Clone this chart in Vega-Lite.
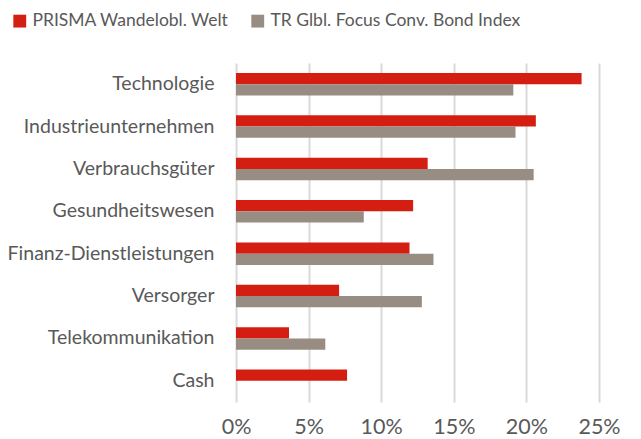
{
  "$schema": "https://vega.github.io/schema/vega-lite/v6.json",
  "width": 363,
  "height": 339,
  "autosize": {"type": "none"},
  "padding": {"left": 236, "top": 63, "right": 42, "bottom": 37},
  "background": "white",
  "data": {
    "values": [
      {"sector": "Technologie", "series": "PRISMA Wandelobl. Welt", "value": 23.8},
      {"sector": "Technologie", "series": "TR Glbl. Focus Conv. Bond Index", "value": 19.1},
      {"sector": "Industrieunternehmen", "series": "PRISMA Wandelobl. Welt", "value": 20.65},
      {"sector": "Industrieunternehmen", "series": "TR Glbl. Focus Conv. Bond Index", "value": 19.25},
      {"sector": "Verbrauchsgüter", "series": "PRISMA Wandelobl. Welt", "value": 13.2},
      {"sector": "Verbrauchsgüter", "series": "TR Glbl. Focus Conv. Bond Index", "value": 20.5},
      {"sector": "Gesundheitswesen", "series": "PRISMA Wandelobl. Welt", "value": 12.2},
      {"sector": "Gesundheitswesen", "series": "TR Glbl. Focus Conv. Bond Index", "value": 8.8},
      {"sector": "Finanz-Dienstleistungen", "series": "PRISMA Wandelobl. Welt", "value": 11.95},
      {"sector": "Finanz-Dienstleistungen", "series": "TR Glbl. Focus Conv. Bond Index", "value": 13.6},
      {"sector": "Versorger", "series": "PRISMA Wandelobl. Welt", "value": 7.1},
      {"sector": "Versorger", "series": "TR Glbl. Focus Conv. Bond Index", "value": 12.8},
      {"sector": "Telekommunikation", "series": "PRISMA Wandelobl. Welt", "value": 3.65},
      {"sector": "Telekommunikation", "series": "TR Glbl. Focus Conv. Bond Index", "value": 6.15},
      {"sector": "Cash", "series": "PRISMA Wandelobl. Welt", "value": 7.65},
      {"sector": "Cash", "series": "TR Glbl. Focus Conv. Bond Index", "value": 0}
    ]
  },
  "mark": {"type": "bar"},
  "encoding": {
    "y": {
      "field": "sector",
      "type": "nominal",
      "sort": null,
      "scale": {"paddingInner": 0.47, "paddingOuter": 0.235},
      "axis": {
        "title": null,
        "domain": false,
        "ticks": false,
        "labelPadding": 22,
        "labelFont": "Lato",
        "labelFontSize": 19.5,
        "labelColor": "#595959",
        "labelLimit": 300
      }
    },
    "yOffset": {
      "field": "series",
      "type": "nominal",
      "sort": ["PRISMA Wandelobl. Welt", "TR Glbl. Focus Conv. Bond Index"]
    },
    "x": {
      "field": "value",
      "type": "quantitative",
      "scale": {"domain": [0, 25], "nice": false},
      "axis": {
        "title": null,
        "values": [0, 5, 10, 15, 20, 25],
        "labelExpr": "datum.value + '%'",
        "domain": false,
        "ticks": false,
        "grid": true,
        "gridColor": "#D9D9D9",
        "gridWidth": 2,
        "labelPadding": 14,
        "labelFont": "Lato",
        "labelFontSize": 21.5,
        "labelColor": "#595959",
        "labelFlush": false,
        "labelOverlap": false
      }
    },
    "color": {
      "field": "series",
      "type": "nominal",
      "sort": ["PRISMA Wandelobl. Welt", "TR Glbl. Focus Conv. Bond Index"],
      "scale": {
        "domain": ["PRISMA Wandelobl. Welt", "TR Glbl. Focus Conv. Bond Index"],
        "range": ["#D41E12", "#988D82"]
      },
      "legend": {
        "title": null,
        "orient": "none",
        "direction": "horizontal",
        "legendX": -225,
        "legendY": -51,
        "symbolType": "square",
        "symbolSize": 165,
        "symbolStrokeWidth": 0,
        "symbolOpacity": 1,
        "labelFont": "Lato",
        "labelFontSize": 17.5,
        "labelColor": "#595959",
        "labelOffset": 4,
        "columnPadding": 20,
        "labelLimit": 400
      }
    }
  },
  "config": {"view": {"stroke": null}}
}
